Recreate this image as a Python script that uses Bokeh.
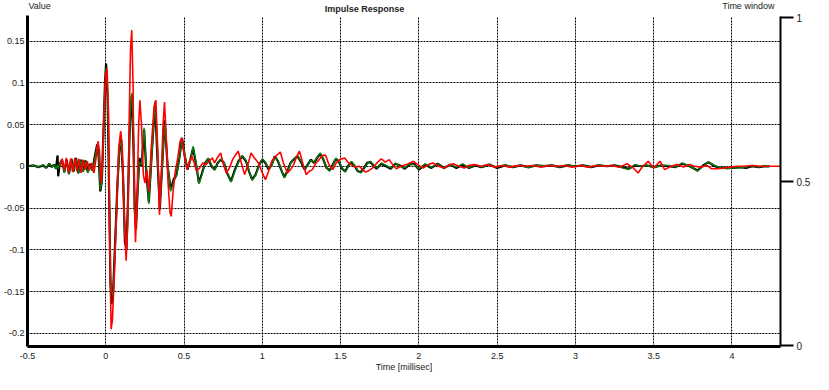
from bokeh.plotting import figure
from bokeh.models import Range1d, LinearAxis, FixedTicker, Label
from bokeh.embed import file_html
from bokeh.resources import INLINE

# ---------------- data ----------------
x_ticks = [-0.5, 0, 0.5, 1, 1.5, 2, 2.5, 3, 3.5, 4]
x_tick_labels = ["-0.5", "0", "0.5", "1", "1.5", "2", "2.5", "3", "3.5", "4"]
y_ticks = [-0.2, -0.15, -0.1, -0.05, 0, 0.05, 0.1, 0.15]
y_tick_labels = ["-0.2", "-0.15", "-0.1", "-0.05", "0", "0.05", "0.1", "0.15"]
win_ticks = [0, 0.5, 1]
win_tick_labels = ["0", "0.5", "1"]

black_t = [
    -0.50, -0.46, -0.43, -0.40, -0.38, -0.36, -0.345, -0.33, -0.318, -0.308,
    -0.304, -0.295, -0.28, -0.265, -0.25, -0.235, -0.22, -0.205, -0.19, -0.175,
    -0.16, -0.145, -0.13, -0.115, -0.10, -0.085, -0.07, -0.055, -0.045, -0.035,
    -0.025, -0.015, -0.005, 0.002, 0.012, 0.022, 0.030, 0.037, 0.047, 0.060,
    0.075, 0.088, 0.098, 0.110, 0.122, 0.132, 0.142, 0.152, 0.160, 0.167,
    0.176, 0.185, 0.193, 0.203, 0.215, 0.228, 0.245, 0.260, 0.275, 0.295,
    0.315, 0.330, 0.345, 0.360, 0.376, 0.395, 0.415, 0.435, 0.452, 0.470,
    0.487, 0.505, 0.522, 0.540, 0.558, 0.577, 0.595, 0.615, 0.635, 0.655,
    0.675, 0.695, 0.715, 0.735, 0.755, 0.775, 0.800, 0.825, 0.848, 0.872,
    0.896, 0.915, 0.935, 0.957, 0.980, 1.000, 1.020, 1.040, 1.060, 1.080,
    1.100, 1.120, 1.140, 1.160, 1.180, 1.200, 1.225, 1.250, 1.270, 1.290,
    1.310, 1.330, 1.350, 1.370, 1.390, 1.410, 1.430, 1.450, 1.470, 1.490,
    1.510, 1.530, 1.550, 1.570, 1.590, 1.610, 1.630, 1.650, 1.670, 1.690,
    1.710, 1.730, 1.760, 1.790, 1.820, 1.850, 1.880, 1.910, 1.940, 1.970,
    2.000, 2.040, 2.080, 2.120, 2.160, 2.200, 2.240, 2.280, 2.320, 2.360,
    2.400, 2.450, 2.500, 2.550, 2.600, 2.650, 2.700, 2.750, 2.800, 2.850,
    2.900, 2.950, 3.000, 3.050, 3.100, 3.150, 3.200, 3.250, 3.300, 3.340,
    3.380, 3.420, 3.460, 3.500, 3.550, 3.600, 3.640, 3.680, 3.720, 3.750,
    3.780, 3.815, 3.850, 3.890, 3.930, 3.970, 4.010, 4.050, 4.090, 4.130,
    4.170, 4.210, 4.240,
]
black_v = [
    0.000, 0.001, -0.001, 0.001, -0.002, 0.003, -0.001, 0.002, -0.003, 0.013,
    -0.012, 0.002, 0.008, -0.007, 0.008, -0.009, 0.009, -0.006, 0.010, -0.008,
    0.008, -0.006, 0.007, -0.007, 0.003, -0.005, 0.012, 0.026, 0.010, -0.030,
    -0.018, 0.040, 0.100, 0.123, 0.080, -0.040, -0.140, -0.165, -0.150, -0.090,
    -0.020, 0.025, 0.032, -0.010, -0.090, -0.100, -0.040, 0.040, 0.075, 0.085,
    0.030, -0.050, -0.075, -0.030, 0.010, 0.000, 0.044, -0.010, -0.043, 0.020,
    0.076, 0.010, -0.052, 0.000, 0.055, 0.000, -0.028, -0.015, -0.010, 0.010,
    0.034, 0.012, -0.004, 0.008, 0.022, 0.002, -0.020, -0.008, 0.004, 0.009,
    0.000, -0.004, 0.004, 0.008, 0.004, -0.008, -0.018, -0.004, 0.006, 0.012,
    0.006, -0.006, -0.016, -0.010, 0.002, 0.008, 0.004, -0.004, 0.002, 0.012,
    0.006, -0.004, -0.013, -0.006, 0.004, 0.008, 0.012, 0.004, -0.004, 0.002,
    0.008, 0.004, 0.010, 0.015, 0.008, -0.002, -0.005, 0.002, 0.009, 0.005,
    -0.003, -0.006, 0.001, 0.005, 0.000, -0.006, -0.007, -0.002, 0.004, 0.005,
    0.001, -0.003, 0.003, 0.000, -0.003, 0.003, 0.001, -0.003, 0.002, 0.003,
    -0.004, 0.002, -0.002, 0.003, -0.002, 0.002, -0.002, 0.002, -0.002, 0.001,
    -0.001, 0.002, -0.002, 0.001, -0.001, 0.001, -0.001, 0.001, 0.000, 0.001,
    -0.001, 0.001, 0.000, 0.001, -0.001, 0.001, 0.000, 0.001, -0.001, -0.003,
    0.001, 0.000, 0.001, -0.001, 0.001, 0.000, -0.001, 0.003, 0.001, -0.002,
    -0.005, 0.001, 0.005, 0.000, -0.002, -0.002, -0.002, -0.001, -0.002, 0.000,
    -0.001, 0.000, 0.000,
]
green_t = black_t
green_v = [
    0.000, 0.001, -0.001, 0.002, -0.002, 0.003, -0.001, 0.002, -0.003, 0.002,
    -0.003, 0.002, 0.007, -0.008, 0.007, -0.010, 0.008, -0.007, 0.009, -0.009,
    0.007, -0.007, 0.006, -0.008, 0.002, -0.006, 0.010, 0.024, 0.012, -0.028,
    -0.020, 0.035, 0.095, 0.118, 0.085, -0.030, -0.130, -0.150, -0.155, -0.095,
    -0.025, 0.022, 0.030, -0.005, -0.085, -0.095, -0.045, 0.035, 0.080, 0.088,
    0.035, -0.045, -0.070, -0.035, 0.005, 0.002, 0.046, -0.005, -0.045, 0.015,
    0.078, 0.015, -0.045, -0.005, 0.050, 0.005, -0.030, -0.018, -0.012, 0.008,
    0.032, 0.014, -0.002, 0.006, 0.024, 0.004, -0.021, -0.010, 0.003, 0.010,
    0.002, -0.005, 0.003, 0.009, 0.005, -0.007, -0.019, -0.006, 0.005, 0.013,
    0.007, -0.005, -0.017, -0.011, 0.001, 0.009, 0.005, -0.003, 0.001, 0.011,
    0.007, -0.003, -0.014, -0.007, 0.003, 0.009, 0.013, 0.005, -0.003, 0.001,
    0.007, 0.005, 0.011, 0.016, 0.009, -0.001, -0.006, 0.001, 0.010, 0.006,
    -0.002, -0.007, 0.000, 0.006, 0.001, -0.005, -0.008, -0.003, 0.003, 0.006,
    0.002, -0.002, 0.004, 0.001, -0.002, 0.004, 0.000, -0.002, 0.003, 0.002,
    -0.003, 0.003, -0.001, 0.003, -0.003, 0.002, -0.001, 0.003, -0.002, 0.002,
    -0.001, 0.002, -0.001, 0.002, -0.001, 0.001, -0.002, 0.001, 0.001, 0.001,
    -0.001, 0.002, 0.000, 0.001, -0.001, 0.002, 0.000, 0.001, -0.002, -0.004,
    0.002, 0.000, 0.001, -0.002, 0.001, 0.001, -0.001, 0.004, 0.001, -0.002,
    -0.006, 0.000, 0.005, 0.001, -0.002, -0.003, -0.002, -0.002, -0.001, 0.001,
    -0.001, 0.001, 0.000,
]
red_t = [
    -0.290, -0.278, -0.265, -0.252, -0.238, -0.225, -0.212, -0.198, -0.185, -0.172,
    -0.158, -0.145, -0.132, -0.118, -0.105, -0.090, -0.075, -0.062, -0.050, -0.040,
    -0.030, -0.020, -0.010, 0.000, 0.008, 0.018, 0.026, 0.034, 0.042, 0.055,
    0.068, 0.082, 0.095, 0.105, 0.118, 0.130, 0.140, 0.150, 0.158, 0.166,
    0.174, 0.182, 0.190, 0.200, 0.210, 0.218, 0.228, 0.240, 0.250, 0.262,
    0.275, 0.290, 0.308, 0.320, 0.332, 0.343, 0.355, 0.366, 0.375, 0.385,
    0.398, 0.410, 0.418, 0.430, 0.445, 0.460, 0.475, 0.485, 0.500, 0.520,
    0.535, 0.550, 0.565, 0.580, 0.600, 0.620, 0.640, 0.660, 0.680, 0.695,
    0.712, 0.734, 0.752, 0.770, 0.790, 0.810, 0.830, 0.846, 0.866, 0.887,
    0.908, 0.928, 0.950, 0.975, 1.000, 1.020, 1.040, 1.060, 1.085, 1.115,
    1.135, 1.160, 1.180, 1.200, 1.220, 1.237, 1.258, 1.280, 1.300, 1.320,
    1.343, 1.363, 1.385, 1.405, 1.425, 1.450, 1.472, 1.494, 1.526, 1.546,
    1.566, 1.595, 1.620, 1.640, 1.660, 1.682, 1.705, 1.732, 1.760, 1.785,
    1.810, 1.833, 1.855, 1.885, 1.920, 1.965, 2.000, 2.030, 2.060, 2.090,
    2.125, 2.160, 2.190, 2.220, 2.255, 2.290, 2.320, 2.350, 2.400, 2.440,
    2.480, 2.530, 2.580, 2.630, 2.680, 2.730, 2.780, 2.830, 2.880, 2.930,
    2.980, 3.030, 3.080, 3.130, 3.180, 3.230, 3.280, 3.330, 3.370, 3.400,
    3.430, 3.465, 3.500, 3.540, 3.570, 3.610, 3.650, 3.690, 3.730, 3.760,
    3.800, 3.840, 3.870, 3.910, 3.950, 3.990, 4.030, 4.080, 4.130, 4.180,
    4.230, 4.310,
]
red_v = [
    0.000, 0.009, -0.005, 0.010, -0.008, 0.009, -0.007, 0.010, -0.006, 0.009,
    -0.008, 0.008, -0.004, 0.006, -0.005, 0.004, -0.008, 0.010, 0.030, 0.018,
    -0.020, 0.010, 0.070, 0.110, 0.117, 0.060, -0.100, -0.195, -0.185, -0.130,
    -0.060, 0.020, 0.042, 0.025, -0.060, -0.113, -0.070, 0.060, 0.140, 0.163,
    0.100, -0.040, -0.091, -0.040, 0.050, 0.079, 0.050, -0.010, -0.020, -0.005,
    -0.030, 0.020, 0.070, 0.079, 0.020, -0.058, -0.010, 0.050, 0.077, 0.040,
    -0.020, -0.055, -0.060, -0.030, -0.005, 0.010, 0.030, 0.034, 0.015, -0.004,
    0.005, 0.012, 0.004, -0.006, -0.002, 0.004, 0.002, 0.006, 0.010, 0.004,
    0.010, 0.016, 0.002, -0.008, -0.002, 0.008, 0.014, 0.018, 0.004, -0.010,
    0.002, 0.016, 0.010, 0.004, -0.008, -0.016, -0.006, 0.006, 0.012, 0.017,
    0.004, -0.008, -0.004, 0.002, 0.012, 0.018, 0.004, -0.010, -0.006, -0.004,
    0.004, 0.008, 0.013, 0.013, 0.002, -0.004, 0.004, 0.008, 0.010, 0.005,
    0.002, -0.001, 0.000, -0.004, -0.007, -0.005, -0.002, 0.004, 0.009, 0.005,
    0.008, 0.002, -0.003, 0.000, 0.002, 0.006, 0.001, -0.002, 0.002, 0.004,
    0.000, -0.002, 0.001, 0.003, 0.000, -0.002, 0.001, 0.002, 0.000, 0.002,
    -0.001, 0.001, -0.001, 0.001, 0.000, 0.001, -0.001, 0.001, 0.000, 0.001,
    -0.001, 0.001, -0.001, 0.001, 0.000, 0.001, -0.001, 0.003, -0.002, -0.008,
    0.000, 0.006, -0.002, 0.006, -0.004, 0.000, 0.002, -0.001, 0.002, 0.000,
    -0.001, 0.001, -0.003, -0.003, -0.002, -0.001, 0.000, 0.000, 0.001, 0.000,
    0.000, 0.000,
]

# ---------------- figure ----------------
FONT = "Liberation Sans"
Y_LO, Y_AX_TOP, Y_TOP = -0.2158, 0.1806, 0.1985
W_LO, W_AX_TOP, W_TOP = -0.002, 1.003, 1.0525

p = figure(width=813, height=374, output_backend="svg", toolbar_location=None,
           title=None,
           x_range=Range1d(-0.5, 4.31), y_range=Range1d(Y_LO, Y_TOP),
           min_border_left=20, min_border_right=31, min_border_top=0,
           min_border_bottom=26)
p.outline_line_color = None
p.background_fill_color = "white"
p.border_fill_color = "white"
p.extra_y_ranges = {"win": Range1d(W_LO, W_TOP)}

# bottom axis
xa = p.xaxis[0]
xa.ticker = FixedTicker(ticks=x_ticks)
xa.major_label_overrides = dict(zip(x_ticks, x_tick_labels))
xa.axis_line_width = 3
xa.axis_line_color = "black"
xa.major_tick_out = 0
xa.major_tick_in = 0
xa.minor_tick_out = 0
xa.minor_tick_in = 0
xa.major_label_standoff = 6
xa.major_label_text_font = FONT
xa.major_label_text_font_size = "9px"
xa.major_label_text_color = "#222222"
xa.axis_label = "Time [millisec]"
xa.axis_label_standoff = 0
xa.axis_label_text_font = FONT
xa.axis_label_text_font_size = "9px"
xa.axis_label_text_font_style = "normal"
xa.axis_label_text_color = "#222222"

# left axis
ya = p.yaxis[0]
ya.ticker = FixedTicker(ticks=y_ticks)
ya.major_label_overrides = dict(zip(y_ticks, y_tick_labels))
ya.bounds = (Y_LO, Y_AX_TOP)
ya.axis_line_width = 3
ya.axis_line_color = "black"
ya.major_tick_out = 0
ya.major_tick_in = 0
ya.minor_tick_out = 0
ya.minor_tick_in = 0
ya.major_label_standoff = 3
ya.major_label_text_font = FONT
ya.major_label_text_font_size = "9px"
ya.major_label_text_color = "#222222"

# right "Time window" axis
ra = LinearAxis(y_range_name="win", ticker=FixedTicker(ticks=win_ticks),
                major_label_overrides=dict(zip(win_ticks, win_tick_labels)))
ra.bounds = (W_LO, W_AX_TOP)
ra.axis_line_width = 2
ra.axis_line_color = "black"
ra.major_tick_out = 13
ra.major_tick_in = 0
ra.major_tick_line_width = 2
ra.minor_tick_out = 0
ra.minor_tick_in = 0
ra.major_label_standoff = 3
ra.major_label_text_font = FONT
ra.major_label_text_font_size = "10px"
ra.major_label_text_color = "#222222"
p.add_layout(ra, "right")

# grids
for g, t in ((p.xgrid[0], x_ticks), (p.ygrid[0], y_ticks)):
    g.ticker = FixedTicker(ticks=t)
    g.grid_line_color = "black"
    g.grid_line_dash = "2 1"
    g.grid_line_width = 1
if "cross_bounds" in p.xgrid[0].properties():
    p.xgrid[0].cross_bounds = (Y_LO, 0.178)

# curves
p.line(black_t, black_v, line_color="black", line_width=2.2)
p.line(green_t, green_v, line_color="#0b7d0b", line_width=1.3)
p.line(red_t, red_v, line_color="#ff0000", line_width=1.6)

# texts in the strip above the plotting area
def lab(x, y, text, align="left", bold=False):
    p.add_layout(Label(x=x, y=y, text=text, text_font=FONT,
                       text_font_size="9px", text_align=align,
                       text_baseline="middle", text_color="#222222",
                       text_font_style="bold" if bold else "normal"))

lab(-0.494, 0.1914, "Value")
lab(1.653, 0.1878, "Impulse Response", align="center", bold=True)
lab(4.271, 0.1914, "Time window", align="right")

open("out.html", "w").write(file_html(p, INLINE))
